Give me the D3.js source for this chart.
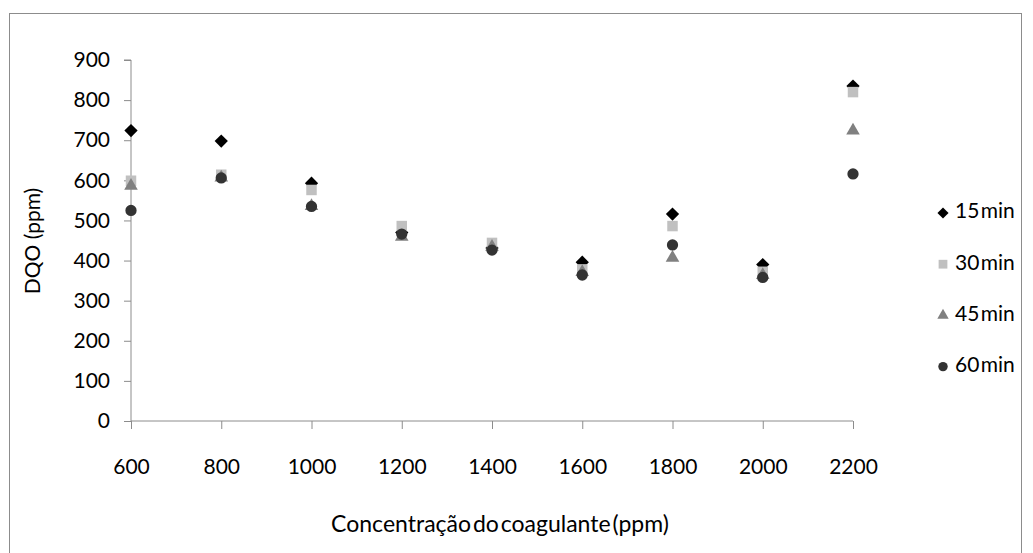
<!DOCTYPE html>
<html>
<head>
<meta charset="utf-8">
<script src="https://cdn.jsdelivr.net/npm/d3@7"></script>
<style>
  html, body { margin: 0; padding: 0; background: #fff; }
  svg { display: block; font-family: Lato, "Open Sans", sans-serif; }
</style>
</head>
<body>
<div id="chart"></div>
<script>
// concentrations (ppm) and DQO readings per contact time
const concentrations = [600, 800, 1000, 1200, 1400, 1600, 1800, 2000, 2200];
const dqo15 = [724, 698, 593, 470, 431, 396, 516, 390, 835];
const dqo30 = [599, 614, 576, 486, 444, 378, 486, 372, 820];
const dqo45 = [586, 607, 536, 459, 434, 371, 407, 364, 724];
const dqo60 = [525, 606, 535, 466, 426, 364, 439, 358, 616];
const yTicks = [0, 100, 200, 300, 400, 500, 600, 700, 800, 900];
const xTicks = [600, 800, 1000, 1200, 1400, 1600, 1800, 2000, 2200];

const series = [
  { name: '15 min', values: dqo15, symbol: d3.symbolSquare, size: 88, color: '#000000', rot: 45 },
  { name: '30 min', values: dqo30, symbol: d3.symbolSquare, size: 110, color: '#c0c0c0', rot: 0 },
  { name: '45 min', values: dqo45, symbol: d3.symbolTriangle, size: 80, color: '#808080', rot: 0 },
  { name: '60 min', values: dqo60, symbol: d3.symbolCircle, size: 100, color: '#333333', rot: 0 },
];

const W = 1033, H = 553;
const svg = d3.select('#chart').append('svg')
  .attr('width', W).attr('height', H);

// outer chart frame
svg.append('rect')
  .attr('x', 9.5).attr('y', 13.5)
  .attr('width', 1012).attr('height', 560)
  .attr('fill', 'none').attr('stroke', '#8c8c8c').attr('stroke-width', 1);

const x = d3.scaleLinear().domain([600, 2200]).range([131, 853]);
const y = d3.scaleLinear().domain([0, 900]).range([421, 60]);

const yAxis = svg.append('g')
  .attr('transform', 'translate(131,0)')
  .call(d3.axisLeft(y).tickValues(yTicks).tickSize(7).tickPadding(14));
const xAxis = svg.append('g')
  .attr('transform', 'translate(0,421)')
  .call(d3.axisBottom(x).tickValues(xTicks).tickSize(8).tickPadding(30).tickFormat(d3.format('d')));

[yAxis, xAxis].forEach(g => {
  g.select('.domain').attr('stroke', '#8c8c8c');
  g.selectAll('.tick line').attr('stroke', '#8c8c8c');
  g.selectAll('.tick text')
    .attr('fill', '#000')
    .style('font-size', '21px')
    .style('font-family', 'Lato, "Open Sans", sans-serif');
});
yAxis.select('.domain').attr('d', `M-7,${y(900)}H0V${y(0)}`);
xAxis.select('.domain').attr('d', `M${x(600)},0H${x(2200)}`);

series.forEach(s => {
  const sym = d3.symbol().type(s.symbol).size(s.size);
  svg.append('g')
    .selectAll('path')
    .data(s.values.map((v, i) => ({ c: concentrations[i], v })))
    .join('path')
    .attr('d', sym)
    .attr('transform', d => `translate(${x(d.c)},${y(d.v)}) rotate(${s.rot})`)
    .attr('fill', s.color);
});

// legend
const legend = svg.append('g');
series.forEach((s, i) => {
  const ly = 213 + i * 51.2;
  legend.append('path')
    .attr('d', d3.symbol().type(s.symbol).size(s.size * 0.7)())
    .attr('transform', `translate(943,${ly}) rotate(${s.rot})`)
    .attr('fill', s.color);
  legend.append('text')
    .attr('x', 955).attr('y', ly)
    .attr('dominant-baseline', 'middle')
    .style('font-size', '21px')
    .style('word-spacing', '-4px')
    .text(s.name);
});

// axis titles
svg.append('text')
  .attr('transform', 'translate(40,241) rotate(-90)')
  .attr('text-anchor', 'middle')
  .style('font-size', '21px')
  .text('DQO  (ppm)');

svg.append('text')
  .attr('x', 500).attr('y', 532)
  .attr('text-anchor', 'middle')
  .style('font-size', '23px')
  .style('word-spacing', '-4px')
  .text('Concentração do coagulante (ppm)');
</script>
</body>
</html>
